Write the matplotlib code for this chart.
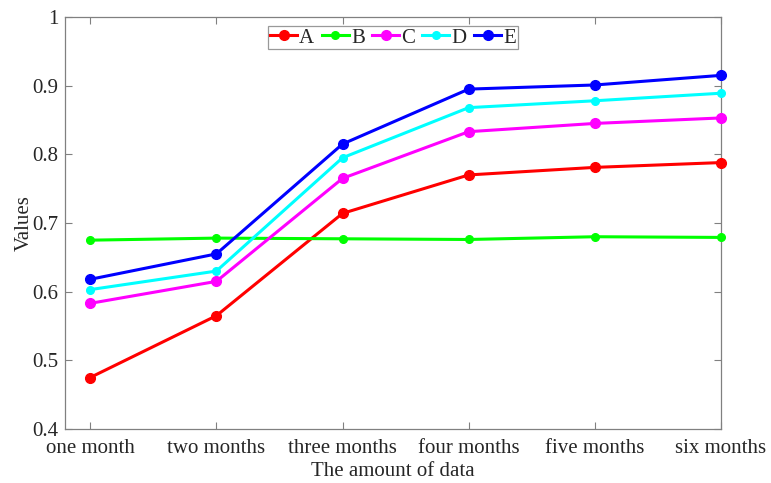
import matplotlib
matplotlib.use("Agg")
import matplotlib.pyplot as plt

categories = ["one month", "two months", "three months", "four months", "five months", "six months"]
series_names = ["A", "B", "C", "D", "E"]
A = [0.475, 0.565, 0.714, 0.770, 0.781, 0.788]
B = [0.675, 0.678, 0.677, 0.676, 0.680, 0.679]
C = [0.583, 0.615, 0.765, 0.833, 0.845, 0.853]
D = [0.603, 0.630, 0.795, 0.868, 0.878, 0.889]
E = [0.618, 0.655, 0.815, 0.895, 0.901, 0.915]
colors = ["#ff0000", "#00ff00", "#ff00ff", "#00ffff", "#0000ff"]
marker_sizes = [7, 5.5, 7, 5.5, 7]

plt.rcParams["font.family"] = ["Liberation Serif", "DejaVu Serif"]

fig = plt.figure(figsize=(7.71, 4.83), dpi=100)
ax = fig.add_axes([65 / 771, 54 / 483, 656 / 771, 412 / 483])

x = list(range(1, len(categories) + 1))
for name, vals, c, ms in zip(series_names, [A, B, C, D, E], colors, marker_sizes):
    ax.plot(x, vals, color=c, lw=2.2, marker="o", markersize=ms, label=name,
            clip_on=False, zorder=3)

ax.set_xlim(0.8, 6)
ax.set_ylim(0.4, 1.0)
ax.set_xticks(x)
ax.set_xticklabels(categories)
ax.set_yticks([0.4, 0.5, 0.6, 0.7, 0.8, 0.9, 1.0])
ax.set_yticklabels(["0.4", "0.5", "0.6", "0.7", "0.8", "0.9", "1"])

for s in ax.spines.values():
    s.set_color("#808080")
    s.set_linewidth(0.9)
ax.tick_params(direction="in", top=True, right=True, length=5, color="#808080",
               labelsize=15, labelcolor="#262626")
ax.tick_params(axis="x", pad=7)
ax.tick_params(axis="y", pad=5)

ax.set_xlabel("The amount of data", fontsize=15, color="#262626", labelpad=3)
ax.set_ylabel("Values", fontsize=15, color="#262626", labelpad=-1)

leg = ax.legend(loc="upper center", bbox_to_anchor=(0.5, 1.0), ncol=5, fontsize=15,
                frameon=True, fancybox=False, handlelength=1.3, handletextpad=0.1,
                columnspacing=0.35, borderpad=0.08, borderaxespad=0.45)
leg.get_frame().set_edgecolor("#808080")
leg.get_frame().set_linewidth(0.9)
for t in leg.get_texts():
    t.set_color("#262626")

fig.savefig("out.png", dpi=100)
